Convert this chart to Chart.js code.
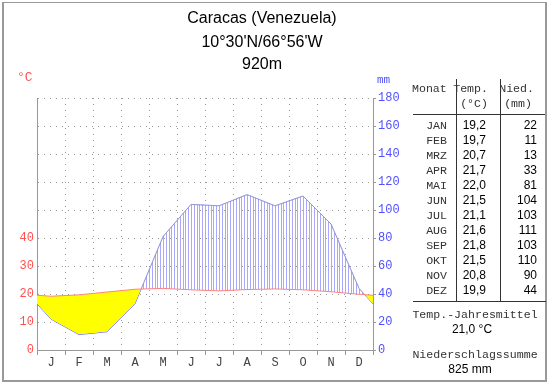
<!DOCTYPE html>
<html>
<head>
<meta charset="utf-8">
<script src="https://cdn.jsdelivr.net/npm/chart.js@4/dist/chart.umd.min.js"></script>
<style>
  html, body { margin: 0; padding: 0; background: #fff; }
  #wrap { position: relative; width: 550px; height: 384px; overflow: hidden; }
  #frame { position: absolute; left: 2px; top: 2px; width: 545px; height: 380px;
           box-sizing: border-box; border: 2px solid #999; border-top-width: 1px; }
  canvas { position: absolute; left: 0; top: 0; }
  .t { position: absolute; white-space: nowrap; line-height: 15px; }
  .title { left: 0; width: 524px; text-align: center; font: 16px "Liberation Sans", Arial, sans-serif; color: #000; line-height: 20px; }
  .mono { font-family: "Liberation Mono", "Courier New", monospace; font-size: 11.6px; color: #333; }
  .num { font-family: "Liberation Sans", Arial, sans-serif; font-size: 12px; color: #000; }
  .r { text-align: right; }
  .c { text-align: center; }
  .line { position: absolute; background: #333; }
</style>
</head>
<body>
<div id="wrap">
  <div id="frame"></div>
  <canvas id="chart" width="550" height="384"></canvas>
  <div class="t title" style="top:8px">Caracas (Venezuela)</div>
  <div class="t title" style="top:32px">10°30'N/66°56'W</div>
  <div class="t title" style="top:54px">920m</div>
  <div class="t mono" style="left:17px;top:70px;color:#ff5050;font-size:13px">°C</div>
  <div class="t mono" style="left:377px;top:73px;color:#5050ff;font-size:11px">mm</div>
  <div id="table"></div>
</div>
<script>
const MONTH_LETTERS = ['J', 'F', 'M', 'A', 'M', 'J', 'J', 'A', 'S', 'O', 'N', 'D'];
const MONTH_NAMES = ['JAN', 'FEB', 'MRZ', 'APR', 'MAI', 'JUN', 'JUL', 'AUG', 'SEP', 'OKT', 'NOV', 'DEZ'];
const TEMPS = [19.2, 19.7, 20.7, 21.7, 22.0, 21.5, 21.1, 21.6, 21.8, 21.5, 20.8, 19.9];
const PRECIP = [22, 11, 13, 33, 81, 104, 103, 111, 103, 110, 90, 44];
const TEMP_MEAN = '21,0 °C';
const PRECIP_SUM = '825 mm';

// months sit at their centers; Dec is repeated before Jan and Jan after Dec so the curves run to the edges
function withWrap(values) {
    const pts = values.map((v, i) => ({ x: i + 0.5, y: v }));
    pts.unshift({ x: -0.5, y: values[11] });
    pts.push({ x: 12.5, y: values[0] });
    return pts;
}

function yAt(points, px) {
    for (let i = 0; i < points.length - 1; i++) {
        const a = points[i], b = points[i + 1];
        if (px >= a.x && px <= b.x) {
            return a.y + (b.y - a.y) * (px - a.x) / (b.x - a.x);
        }
    }
    return null;
}

// vertical hatching where precipitation lies above temperature
const hatch = {
    id: 'hatch',
    beforeDatasetsDraw(chart) {
        const { ctx, chartArea: a } = chart;
        const t = chart.getDatasetMeta(0).data;
        const p = chart.getDatasetMeta(1).data;
        const xs = chart.scales.x;
        ctx.save();
        ctx.beginPath();
        ctx.rect(a.left, a.top, a.right - a.left, a.bottom - a.top);
        ctx.clip();
        ctx.strokeStyle = '#a8a8ff';
        ctx.lineWidth = 1;
        ctx.beginPath();
        for (let k = 0; k <= 120; k++) {
            const px = Math.round(xs.getPixelForValue(k / 10)) + 0.5;
            const yt = yAt(t, px), yp = yAt(p, px);
            if (yt !== null && yp !== null && yp < yt) {
                ctx.moveTo(px, yt);
                ctx.lineTo(px, yp);
            }
        }
        ctx.stroke();
        ctx.restore();
    }
};

const axisGray = '#999';
const dotted = [1, 5];

new Chart(document.getElementById('chart'), {
    type: 'line',
    data: {
        datasets: [{
            label: 'Temp',
            data: withWrap(TEMPS),
            yAxisID: 'y',
            borderColor: '#ff8080',
            borderWidth: 1,
            pointRadius: 0,
            tension: 0,
            fill: { target: 1, above: '#ffff00', below: 'rgba(0,0,0,0)' }
        }, {
            label: 'Nied',
            data: withWrap(PRECIP),
            yAxisID: 'y1',
            borderColor: '#7878ff',
            borderWidth: 1,
            pointRadius: 0,
            tension: 0,
            fill: false
        }]
    },
    options: {
        responsive: false,
        animation: false,
        layout: { padding: { top: 98, left: 0, right: 0, bottom: 0 } },
        plugins: {
            legend: { display: false },
            tooltip: { enabled: false }
        },
        scales: {
            x: {
                type: 'linear',
                min: 0,
                max: 12,
                afterBuildTicks: scale => {
                    const ticks = [];
                    for (let i = 0; i <= 24; i++) ticks.push({ value: i / 2 });
                    scale.ticks = ticks;
                },
                afterFit: scale => { scale.height = 34; },
                ticks: {
                    autoSkip: false,
                    maxRotation: 0,
                    padding: 1,
                    color: '#444',
                    font: { family: '"Liberation Mono", monospace', size: 12 },
                    callback: v => (v % 1 ? MONTH_LETTERS[Math.floor(v)] : '')
                },
                grid: {
                    color: c => (c.tick && c.tick.value % 1 === 0 && c.tick.value > 0 && c.tick.value < 12 ? axisGray : 'rgba(0,0,0,0)'),
                    tickColor: c => (c.tick && c.tick.value % 1 === 0 ? axisGray : 'rgba(0,0,0,0)'),
                    tickLength: 5
                },
                border: { color: axisGray, width: 1, dash: dotted }
            },
            y: {
                position: 'left',
                min: 0,
                max: 90,
                afterFit: scale => { scale.width = 37; },
                ticks: {
                    stepSize: 10,
                    padding: 3,
                    color: '#ff5050',
                    font: { family: '"Liberation Mono", monospace', size: 12 },
                    callback: v => (v <= 40 ? v : '')
                },
                grid: {
                    drawTicks: false,
                    color: c => (c.tick && c.tick.value > 0 ? axisGray : 'rgba(0,0,0,0)')
                },
                border: { color: axisGray, width: 1, dash: dotted }
            },
            y1: {
                position: 'right',
                min: 0,
                max: 180,
                afterFit: scale => { scale.width = 177; },
                ticks: {
                    stepSize: 20,
                    padding: 2,
                    color: '#5050ff',
                    font: { family: '"Liberation Mono", monospace', size: 12 }
                },
                grid: {
                    drawOnChartArea: false,
                    tickLength: 3,
                    color: axisGray
                },
                border: { color: axisGray, width: 1 }
            }
        }
    },
    plugins: [hatch]
});

// climate table on the right
const table = document.getElementById('table');
function put(cls, text, style) {
    const d = document.createElement('div');
    d.className = 't ' + cls;
    d.textContent = text;
    d.setAttribute('style', style);
    table.appendChild(d);
}
function rule(style) {
    const d = document.createElement('div');
    d.className = 'line';
    d.setAttribute('style', style);
    table.appendChild(d);
}

put('mono', 'Monat', 'left:412px;top:81px');
put('mono r', 'Temp.', 'left:440px;width:48px;top:81px');
put('mono r', '(°C)', 'left:440px;width:48px;top:96px');
put('mono r', 'Nied.', 'left:490px;width:44px;top:81px');
put('mono r', '(mm)', 'left:490px;width:42px;top:96px');

MONTH_NAMES.forEach((m, i) => {
    const top = 118 + i * 15;
    put('mono r', m, `left:400px;width:47px;top:${top}px`);
    put('num r', TEMPS[i].toFixed(1).replace('.', ','), `left:440px;width:46px;top:${top}px`);
    put('num r', String(PRECIP[i]), `left:490px;width:47px;top:${top}px`);
});

put('mono c', 'Temp.-Jahresmittel', 'left:405px;width:140px;top:307px');
put('num c', TEMP_MEAN, 'left:402px;width:140px;top:322px');
put('mono c', 'Niederschlagssumme', 'left:405px;width:140px;top:347px');
put('num c', PRECIP_SUM, 'left:400px;width:140px;top:362px');

rule('left:456px;top:79px;width:1px;height:222px');
rule('left:500px;top:79px;width:1px;height:222px');
rule('left:413px;top:114px;width:132px;height:1px');
rule('left:413px;top:301px;width:133px;height:1px');
</script>
</body>
</html>
